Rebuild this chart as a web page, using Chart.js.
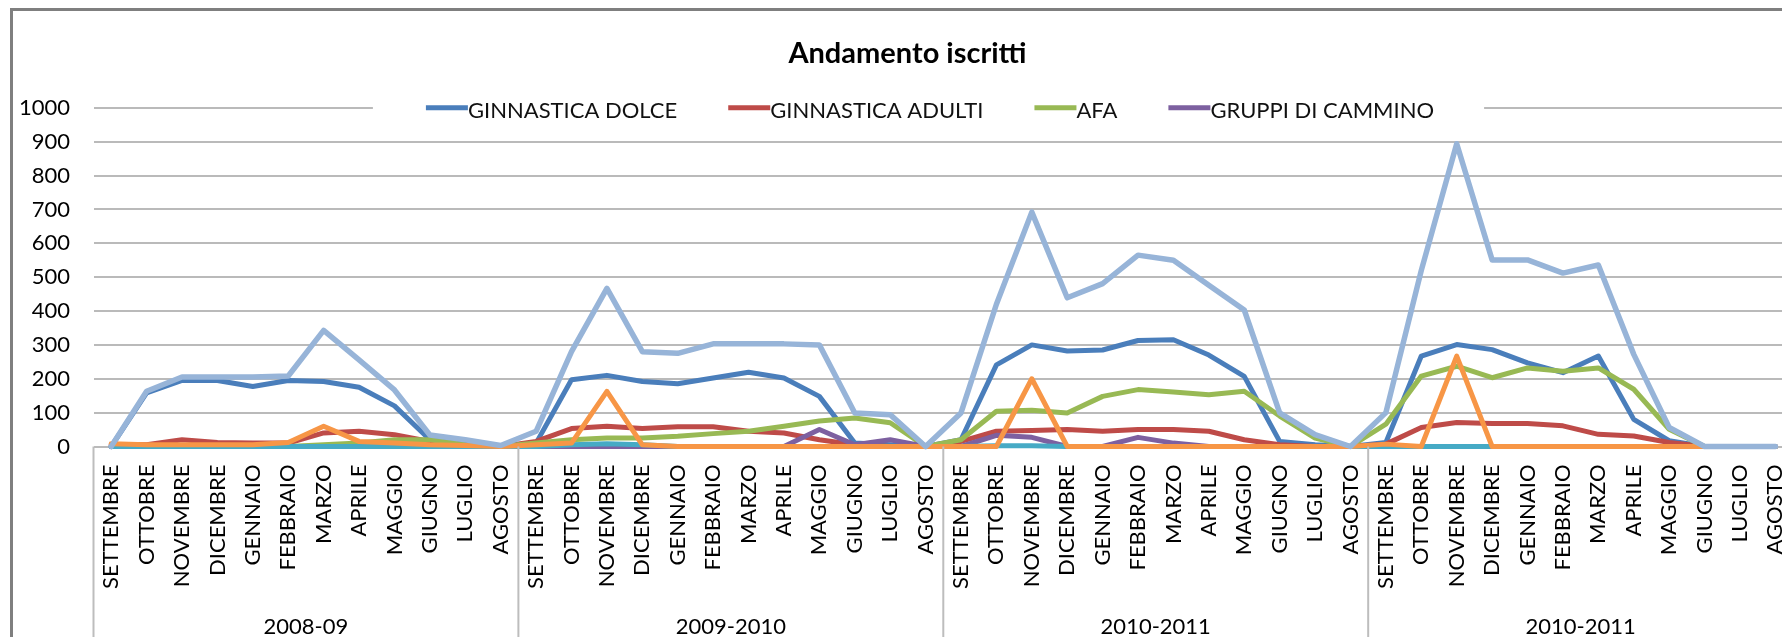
<!DOCTYPE html>
<html>
<head>
<meta charset="utf-8">
<title>Andamento iscritti</title>
<script src="https://cdn.jsdelivr.net/npm/chart.js@4.4.1/dist/chart.umd.min.js"></script>
<style>
  html, body { margin: 0; padding: 0; background: #fff; overflow: hidden; width: 1782px; height: 637px; }
  #clip { position: absolute; left: 0; top: 0; width: 1782px; height: 637px; overflow: hidden; }
  #frame { position: absolute; left: 10px; top: 8px; width: 1807px; height: 660px; border: 3px solid #7f7f7f; background: #fff; }
  #frame canvas { display: block; }
</style>
</head>
<body>
<div id="clip"><div id="frame"><canvas id="chart" width="1807" height="660"></canvas></div></div>
<script>
// mesi di ogni anno sportivo
const months = ['SETTEMBRE','OTTOBRE','NOVEMBRE','DICEMBRE','GENNAIO','FEBBRAIO','MARZO','APRILE','MAGGIO','GIUGNO','LUGLIO','AGOSTO'];
const years = ['2008-09','2009-2010','2010-2011','2010-2011'];
const categories = years.flatMap(() => months);

// iscritti per mese
const ginnasticaDolce = [
  0,158,195,195,177,195,192,175,120,20,10,0,
  10,197,210,192,185,202,219,202,148,10,5,0,
  20,241,300,282,285,313,315,270,207,15,5,0,
  12,267,301,286,247,218,267,80,17,0,0,0
];
const ginnasticaAdulti = [
  5,5,20,12,10,10,40,45,35,15,5,0,
  15,53,60,53,58,58,45,40,20,5,0,0,
  15,45,47,50,45,50,50,45,20,5,0,0,
  7,56,71,68,68,61,36,31,12,0,0,0
];
const afa = [
  0,0,0,0,0,0,5,10,20,20,5,0,
  10,20,25,25,30,38,45,60,75,84,70,0,
  20,104,107,99,148,168,161,153,163,90,25,0,
  66,208,237,203,232,222,232,169,51,0,0,0
];
const gruppiCammino = [
  0,0,0,0,0,0,0,0,0,0,0,0,
  0,0,0,0,0,0,0,0,50,5,20,0,
  0,33,27,0,0,27,10,0,0,0,0,0,
  0,0,0,0,0,0,0,0,0,0,0,0
];
const serie5 = [
  0,0,0,0,0,0,0,0,0,0,0,0,
  0,5,8,5,0,0,0,0,0,0,0,0,
  0,2,2,0,0,0,0,0,0,0,0,0,
  0,0,0,0,0,0,0,0,0,0,0,0
];
const serie6 = [
  8,5,5,5,5,12,60,15,10,5,3,0,
  5,10,163,5,0,0,0,0,0,0,0,0,
  0,0,200,0,0,0,0,0,0,0,0,0,
  7,0,267,0,0,0,0,0,0,0,0,0
];
const totale = [
  0,163,205,205,205,208,343,256,167,34,20,3,
  45,280,467,280,275,303,303,303,300,99,94,0,
  99,420,692,439,481,565,550,476,403,99,35,0,
  100,520,894,551,551,512,536,272,56,0,0,0
];

Chart.defaults.font.family = 'Lato, "Open Sans", sans-serif';
Chart.defaults.color = '#000';

// legenda sovrapposta alla griglia, come in Excel (solo le prime 4 serie)
const topLegend = {
  id: 'topLegend',
  afterDraw(chart) {
    const ctx = chart.ctx, area = chart.chartArea;
    const sets = chart.data.datasets.slice(0, 4);
    const mark = 42, gap = 51;
    ctx.save();
    ctx.font = '22px Lato, "Open Sans", sans-serif';
    const widths = sets.map(d => ctx.measureText(d.label).width);
    const total = widths.reduce((a, b) => a + b, 0) + sets.length * mark + (sets.length - 1) * gap;
    let x = chart.width / 2 + 13.5 - total / 2;
    const y = area.top;
    ctx.fillStyle = '#fff';
    ctx.fillRect(x - 53, y - 14, total + 103, 30);
    sets.forEach(function(d, i) {
      ctx.strokeStyle = d.borderColor;
      ctx.lineWidth = 5;
      ctx.beginPath();
      ctx.moveTo(x, y);
      ctx.lineTo(x + mark, y);
      ctx.stroke();
      ctx.fillStyle = '#111';
      ctx.textBaseline = 'middle';
      ctx.textAlign = 'left';
      ctx.fillText(d.label, x + mark, y + 3);
      x += mark + widths[i] + gap;
    });
    ctx.restore();
  }
};

// linee verticali di separazione tra gli anni
const groupLines = {
  id: 'groupLines',
  afterDraw(chart) {
    const sx = chart.scales.x, area = chart.chartArea, ctx = chart.ctx;
    const half = (sx.getPixelForTick(1) - sx.getPixelForTick(0)) / 2;
    ctx.save();
    ctx.strokeStyle = '#bdbdbd';
    ctx.lineWidth = 2;
    for (let i = 0; i <= categories.length; i += months.length) {
      const px = i < categories.length ? sx.getPixelForTick(i) - half : sx.getPixelForTick(i - 1) + half;
      ctx.beginPath();
      ctx.moveTo(px, area.bottom);
      ctx.lineTo(px, chart.height);
      ctx.stroke();
    }
    ctx.restore();
  }
};

function serie(label, data, color, order, width) {
  return { label, data, borderColor: color, backgroundColor: color, order, borderWidth: width || 5, clip: false };
}

new Chart(document.getElementById('chart'), {
  type: 'line',
  data: {
    labels: categories,
    datasets: [
      serie('GINNASTICA DOLCE', ginnasticaDolce, '#4a7ebb', 7),
      serie('GINNASTICA ADULTI', ginnasticaAdulti, '#be4b48', 6),
      serie('AFA', afa, '#98b954', 5),
      serie('GRUPPI DI CAMMINO', gruppiCammino, '#7d60a0', 4),
      serie('SERIE 5', serie5, '#46aac5', 3),
      serie('SERIE 6', serie6, '#f79646', 2),
      serie('TOTALE', totale, '#97b4d8', 1, 5.5)
    ]
  },
  options: {
    responsive: false,
    animation: false,
    layout: { padding: { left: 3, right: 21 } },
    elements: {
      point: { radius: 0 },
      line: { tension: 0, borderJoinStyle: 'round', borderCapStyle: 'round' }
    },
    plugins: {
      legend: { display: false },
      tooltip: { enabled: false },
      title: {
        display: true,
        text: 'Andamento iscritti',
        color: '#000',
        font: { size: 29, weight: 'bold' },
        padding: { top: 25, bottom: 37 }
      }
    },
    scales: {
      x: {
        offset: true,
        grid: { display: false, drawTicks: false },
        border: { display: false },
        ticks: { autoSkip: false, maxRotation: 90, minRotation: 90, padding: 18, font: { size: 22 } },
        afterFit(s) { s.height = 150; }
      },
      x2: {
        type: 'category',
        labels: years,
        position: 'bottom',
        offset: true,
        grid: { display: false, drawTicks: false },
        border: { display: false },
        ticks: { padding: 17, font: { size: 22 } },
        afterFit(s) { s.height = 74.5; }
      },
      y: {
        min: 0,
        max: 1000,
        ticks: { stepSize: 100, padding: 23.5, font: { size: 22 }, callback: v => String(v) },
        grid: { color: '#bababa', lineWidth: 2, drawTicks: false },
        border: { display: false },
        afterFit(s) { s.width = 77.5; }
      }
    }
  },
  plugins: [topLegend, groupLines]
});
</script>
</body>
</html>
